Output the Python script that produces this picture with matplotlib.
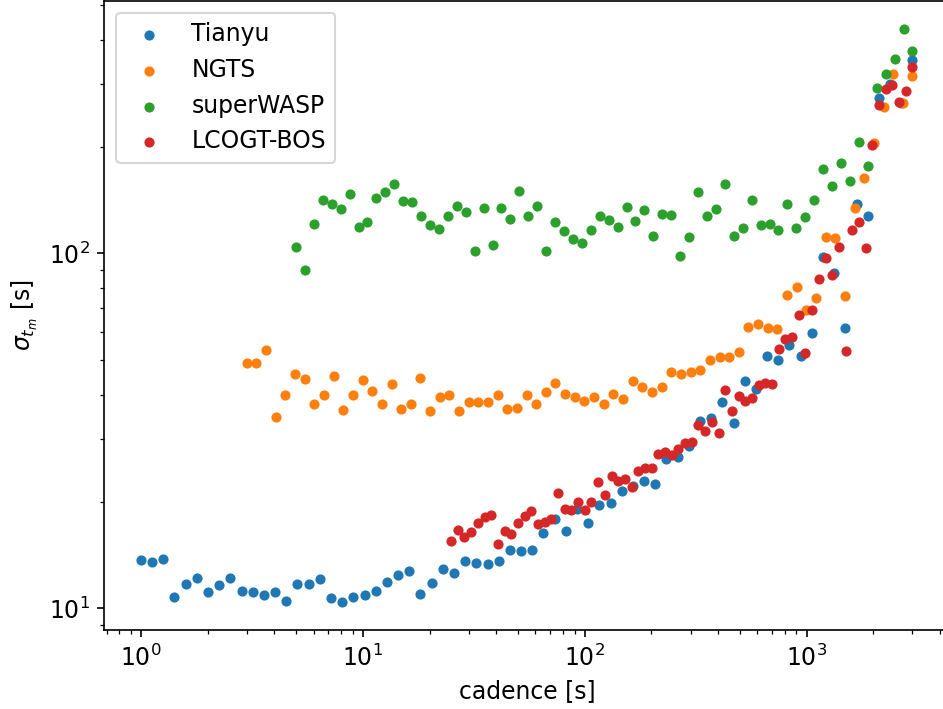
import matplotlib
matplotlib.use('Agg')
import matplotlib.pyplot as plt

# cadence grids [s]
cad_tianyu = [1.000, 1.123, 1.261, 1.416, 1.591, 1.786, 2.006, 2.253, 2.530, 2.842,
              3.191, 3.584, 4.025, 4.520, 5.076, 5.701, 6.402, 7.190, 8.075, 9.068,
              10.18, 11.44, 12.84, 14.42, 16.20, 18.19, 20.43, 22.94, 25.76, 28.93,
              32.49, 36.49, 40.98, 46.02, 51.68, 58.04, 65.18, 73.22, 82.21, 92.33,
              103.7, 116.4, 130.8, 146.9, 164.9, 185.2, 208.0, 233.6, 262.4, 294.6,
              330.9, 371.6, 417.3, 468.6, 526.3, 591.1, 663.8, 745.4, 837.1, 940.1,
              1056, 1186, 1332, 1495, 1679, 1886, 2118, 2379, 2671, 3000]
cad_ngts = [3.000, 3.316, 3.665, 4.051, 4.477, 4.949, 5.470, 6.046, 6.683, 7.386,
            8.164, 9.024, 9.974, 11.02, 12.18, 13.47, 14.89, 16.45, 18.19, 20.10,
            22.22, 24.56, 27.14, 30.00, 33.16, 36.65, 40.51, 44.77, 49.49, 54.70,
            60.46, 66.83, 73.86, 81.64, 90.24, 99.74, 110.2, 121.8, 134.7, 148.9,
            164.5, 181.9, 201.0, 222.2, 245.6, 271.4, 300.0, 331.6, 366.5, 405.1,
            447.7, 494.9, 547.0, 604.6, 668.3, 738.6, 816.4, 902.4, 997.4, 1102,
            1218, 1347, 1489, 1645, 1819, 2010, 2222, 2456, 2714, 3000]
cad_wasp = [5.000, 5.486, 6.019, 6.603, 7.245, 7.949, 8.721, 9.568, 10.50, 11.52,
            12.64, 13.86, 15.21, 16.69, 18.31, 20.09, 22.04, 24.18, 26.53, 29.11,
            31.93, 35.03, 38.44, 42.17, 46.27, 50.76, 55.69, 61.10, 67.04, 73.55,
            80.70, 88.54, 97.14, 106.6, 116.9, 128.3, 140.8, 154.4, 169.4, 185.9,
            203.9, 223.7, 245.5, 269.3, 295.5, 324.2, 355.7, 390.2, 428.1, 469.7,
            515.4, 565.4, 620.3, 680.6, 746.7, 819.2, 898.8, 986.2, 1082, 1187,
            1302, 1429, 1568, 1720, 1887, 2070, 2272, 2492, 2734, 3000]
cad_lcogt = [25.00, 26.80, 28.72, 30.78, 33.00, 35.37, 37.91, 40.63, 43.55, 46.68,
             50.03, 53.63, 57.48, 61.61, 66.04, 70.78, 75.86, 81.32, 87.16, 93.42,
             100.1, 107.3, 115.0, 123.3, 132.2, 141.7, 151.8, 162.8, 174.4, 187.0,
             200.4, 214.8, 230.3, 246.8, 264.5, 283.5, 303.9, 325.7, 349.1, 374.2,
             401.1, 429.9, 460.8, 493.9, 529.4, 567.4, 608.2, 651.9, 698.7, 748.9,
             802.7, 860.4, 922.2, 988.5, 1060, 1136, 1217, 1305, 1398, 1499,
             1607, 1722, 1846, 1978, 2121, 2273, 2436, 2611, 2799, 3000]

# sigma_tm [s]
sig_tianyu = [13.7, 13.5, 13.8, 10.8, 11.7, 12.2, 11.1, 11.65, 12.2, 11.2,
              11.1, 10.9, 11.1, 10.5, 11.7, 11.7, 12.1, 10.7, 10.45, 10.8,
              10.9, 11.2, 11.9, 12.4, 12.76, 11.0, 11.76, 12.9, 12.6, 13.6,
              13.4, 13.35, 13.6, 14.6, 14.5, 14.6, 16.3, 17.8, 16.5, 19.1,
              17.35, 19.5, 19.8, 21.4, 22.1, 22.9, 22.35, 26.3, 26.7, 28.7,
              33.8, 34.3, 38.1, 33.2, 43.7, 41.4, 51.3, 50.0, 55.3, 51.3,
              59.5, 97.6, 88.2, 61.7, 137.7, 127.2, 274, 300, 265, 350]
sig_ngts = [49.2, 49.2, 53.6, 34.5, 40.0, 45.6, 44.4, 37.7, 40.0, 45.0,
            36.2, 39.8, 43.9, 41.0, 37.6, 42.9, 36.4, 37.7, 44.6, 36.0,
            39.4, 39.9, 36.0, 38.2, 38.2, 38.2, 40.0, 36.4, 36.7, 39.9,
            37.7, 40.7, 43.2, 40.1, 39.4, 38.5, 39.3, 37.6, 40.1, 38.8,
            43.8, 41.9, 40.7, 42.0, 46.4, 45.7, 46.3, 47.0, 50.1, 51.0,
            51.1, 52.7, 62.1, 63.2, 61.6, 61.1, 76.4, 80.2, 69.1, 75.0,
            111.2, 110.2, 75.9, 133.9, 162.7, 204, 259, 320, 264.6, 316]
sig_wasp = [104, 89.6, 120.9, 141.3, 137.4, 133.6, 146.6, 118.4, 122.7, 142.9,
            149.1, 157.1, 140.1, 139.5, 127.6, 120.4, 117.1, 127.4, 135.6, 131,
            101.3, 134.1, 105.3, 133.9, 124.7, 150.1, 127.4, 135.9, 101.5, 122.3,
            115.6, 109.9, 106.9, 116.1, 127.6, 124.1, 118.6, 135, 123.6, 132.7,
            112.1, 128.8, 128.6, 98.5, 110.9, 148.9, 127.6, 133.6, 157.1, 111.9,
            118.1, 141, 119.9, 120.7, 116.3, 137.4, 118.1, 126.6, 141.3, 173.1,
            155.0, 179.3, 159.5, 205.8, 176.5, 292.8, 319.3, 352, 428.5, 371.5]
sig_lcogt = [15.5, 16.6, 15.9, 16.4, 17.4, 18.1, 18.3, 15.2, 16.5, 16.2,
             17.4, 18.2, 18.8, 17.3, 17.5, 17.9, 21.2, 19.0, 18.9, 19.9,
             18.9, 19.9, 22.7, 20.9, 23.6, 22.8, 23.1, 22.0, 24.3, 24.8,
             24.9, 27.2, 27.5, 27.0, 28.1, 29.2, 29.5, 32.9, 31.6, 33.5,
             31.2, 41.2, 36.0, 39.6, 38.3, 39.2, 42.5, 43.2, 42.9, 53.9,
             57.4, 58.2, 67.0, 52.4, 69.2, 84.5, 97.2, 86.7, 104, 53.0,
             116, 122.7, 103.5, 202, 261, 290, 298, 267, 287, 335]

plt.rcParams['font.size'] = 11.3

fig = plt.figure(figsize=(943 / 150, 709 / 150), dpi=150)
ax = fig.add_axes([0.1106, 0.1114, 0.898, 0.8872])

ax.scatter(cad_tianyu, sig_tianyu, s=15, label='Tianyu')
ax.scatter(cad_ngts, sig_ngts, s=15, label='NGTS')
ax.scatter(cad_wasp, sig_wasp, s=15, label='superWASP')
ax.scatter(cad_lcogt, sig_lcogt, s=15, label='LCOGT-BOS')

ax.set_xscale('log')
ax.set_yscale('log')
ax.set_xlim(0.684, 4480)
ax.set_ylim(8.69, 514)

ax.set_xlabel('cadence [s]')
ax.set_ylabel(r'$\sigma_{t_m}$ [s]')
ax.legend(loc='upper left')

fig.savefig('out.png', dpi=150)
